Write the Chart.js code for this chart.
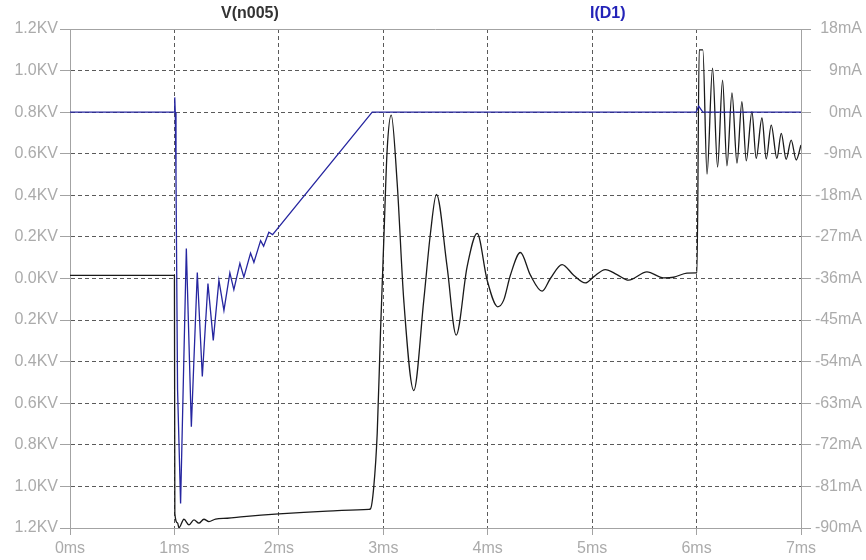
<!DOCTYPE html>
<html><head><meta charset="utf-8">
<script src="https://cdn.jsdelivr.net/npm/chart.js@4.4.0/dist/chart.umd.min.js"></script>
<style>
html,body{margin:0;padding:0;background:#fff;}
#wrap{position:relative;width:866px;height:560px;overflow:hidden;}
canvas{position:absolute;left:0;top:0;}
.lbl{position:absolute;top:4px;font:bold 16px "Liberation Sans",Arial,sans-serif;white-space:nowrap;line-height:18px;}
</style></head><body>
<div id="wrap"><canvas id="c" width="866" height="560"></canvas>
<div class="lbl" id="l1" style="left:221px;color:#333">V(n005)</div>
<div class="lbl" id="l2" style="left:590px;color:#2323b8">I(D1)</div>
</div>
<script>
const seriesNames = ["V(n005)", "I(D1)"];

// V(n005) in kV, time in ms
const vTime = [0, 1.0, 1.004, 1.03, 1.043, 1.091, 1.139, 1.187, 1.234, 1.282, 1.330, 1.394, 1.506, 1.665, 2.0, 2.463, 2.861, 2.877,
  2.909, 2.942, 2.973, 3.005, 3.037, 3.076, 3.133, 3.196, 3.292, 3.388, 3.452, 3.509, 3.611, 3.698, 3.803, 3.899, 3.994, 4.096,
  4.153, 4.217, 4.313, 4.409, 4.521, 4.600, 4.712, 4.823, 4.935, 5.014, 5.126, 5.238, 5.349, 5.525, 5.684, 5.780, 5.908, 5.997,
  6.004, 6.025, 6.06, 6.100, 6.153, 6.201, 6.249, 6.291, 6.339, 6.387, 6.434, 6.476, 6.530, 6.571, 6.626, 6.667, 6.715, 6.769,
  6.811, 6.858, 6.906, 6.954, 7.0];
const vKV = [0.015, 0.015, -1.13, -1.175, -1.199, -1.158, -1.185, -1.161, -1.177, -1.158, -1.169, -1.157, -1.153, -1.145, -1.132, -1.119, -1.110, -1.108,
  -1.001, -0.743, -0.262, 0.185, 0.618, 0.786, 0.459, -0.103, -0.539, -0.103, 0.219, 0.405, 0.057, -0.272, 0.057, 0.217, -0.007, -0.136,
  -0.104, 0.016, 0.125, 0.016, -0.061, 0.0, 0.067, 0.016, -0.021, 0.008, 0.043, 0.019, -0.008, 0.032, 0.003, 0.006, 0.026, 0.027,
  0.027, 1.10, 1.10, 0.502, 1.012, 0.536, 0.954, 0.542, 0.893, 0.555, 0.850, 0.566, 0.802, 0.578, 0.772, 0.575, 0.738, 0.578,
  0.698, 0.573, 0.666, 0.570, 0.642];

// I(D1) in mA, time in ms
const iTime = [0, 1.0, 1.003, 1.008, 1.015, 1.03, 1.059, 1.114, 1.162, 1.219, 1.267, 1.321, 1.372, 1.426, 1.474, 1.531, 1.569, 1.627,
  1.665, 1.729, 1.761, 1.825, 1.854, 1.904, 1.940, 2.894, 5.995, 6.02, 6.06, 7.0];
const iMA = [0, 0, 3.2, 0, -14, -60, -84.7, -29.5, -68.1, -34.7, -57.2, -37.1, -49.4, -36.4, -42.9, -34.8, -38.4, -32.7,
  -35.7, -30.5, -32.5, -27.8, -29.0, -26.0, -26.5, 0, 0, 1.3, 0, 0];

const xTickValues = [0, 1, 2, 3, 4, 5, 6, 7];
const xTickLabels = ["0ms", "1ms", "2ms", "3ms", "4ms", "5ms", "6ms", "7ms"];
const leftTickValues = [-1.2, -1.0, -0.8, -0.6, -0.4, -0.2, 0.0, 0.2, 0.4, 0.6, 0.8, 1.0, 1.2];
const leftTickLabels = ["1.2KV", "1.0KV", "0.8KV", "0.6KV", "0.4KV", "0.2KV", "0.0KV", "0.2KV", "0.4KV", "0.6KV", "0.8KV", "1.0KV", "1.2KV"];
const rightTickValues = [-90, -81, -72, -63, -54, -45, -36, -27, -18, -9, 0, 9, 18];
const rightTickLabels = ["-90mA", "-81mA", "-72mA", "-63mA", "-54mA", "-45mA", "-36mA", "-27mA", "-18mA", "-9mA", "0mA", "9mA", "18mA"];

const FONT = {family: '"Liberation Sans", Arial, sans-serif', size: 16};
const TICK_COLOR = '#ababab';
const BORDER_COLOR = '#a3a3a3';
const GRID_COLOR = '#5a5a5a';

const vData = vTime.map((t, i) => ({x: t, y: vKV[i]}));
const iData = iTime.map((t, i) => ({x: t, y: iMA[i]}));

const frame = {
  id: 'frame',
  beforeDatasetsDraw(chart) {
    const {ctx, chartArea: a} = chart;
    ctx.save();
    ctx.strokeStyle = BORDER_COLOR;
    ctx.lineWidth = 1;
    ctx.beginPath();
    ctx.moveTo(a.left, Math.round(a.top) + 0.5);
    ctx.lineTo(a.right, Math.round(a.top) + 0.5);
    ctx.stroke();
    ctx.restore();
  }
};

new Chart(document.getElementById('c'), {
  type: 'line',
  data: {
    datasets: [
      {label: seriesNames[0], data: vData, yAxisID: 'yL', borderColor: '#1a1a1a', borderWidth: 1.3, pointRadius: 0, cubicInterpolationMode: 'monotone', order: 1},
      {label: seriesNames[1], data: iData, yAxisID: 'yR', borderColor: '#2626a0', borderWidth: 1.3, pointRadius: 0, tension: 0, order: 0}
    ]
  },
  options: {
    responsive: false,
    animation: false,
    devicePixelRatio: 1,
    layout: {padding: {top: 29, right: 4, left: 0, bottom: 0}},
    plugins: {legend: {display: false}, tooltip: {enabled: false}, title: {display: false}},
    scales: {
      x: {
        type: 'linear', position: 'bottom', min: 0, max: 7,
        afterBuildTicks: s => { s.ticks = xTickValues.map(v => ({value: v})); },
        afterFit: s => { s.height = 32; },
        ticks: {callback: (v, i) => xTickLabels[i], color: TICK_COLOR, font: FONT, padding: 4, maxRotation: 0, autoSkip: false},
        grid: {
          color: c => (c.tick && (c.tick.value === 0 || c.tick.value === 7)) ? 'rgba(0,0,0,0)' : GRID_COLOR,
          lineWidth: 1, tickColor: BORDER_COLOR, tickLength: 7, tickBorderDash: [], drawTicks: true
        },
        border: {color: BORDER_COLOR, width: 1, dash: [4, 3]}
      },
      yL: {
        type: 'linear', position: 'left', min: -1.2, max: 1.2,
        afterBuildTicks: s => { s.ticks = leftTickValues.map(v => ({value: v})); },
        afterFit: s => { s.width = 70; },
        ticks: {callback: (v, i) => leftTickLabels[i], color: TICK_COLOR, font: FONT, padding: 2, autoSkip: false},
        grid: {
          color: c => (c.tick && (Math.abs(c.tick.value) > 1.19)) ? 'rgba(0,0,0,0)' : GRID_COLOR,
          lineWidth: 1, tickColor: BORDER_COLOR, tickLength: 10, tickBorderDash: [], drawTicks: true
        },
        border: {color: BORDER_COLOR, width: 1, dash: [4, 3]}
      },
      yR: {
        type: 'linear', position: 'right', min: -90, max: 18,
        afterBuildTicks: s => { s.ticks = rightTickValues.map(v => ({value: v})); },
        afterFit: s => { s.width = 61; },
        ticks: {callback: (v, i) => rightTickLabels[i], color: TICK_COLOR, font: FONT, padding: 2, crossAlign: 'far', autoSkip: false},
        grid: {drawOnChartArea: false, color: BORDER_COLOR, tickColor: BORDER_COLOR, tickLength: 10, tickBorderDash: [], drawTicks: true},
        border: {color: BORDER_COLOR, width: 1}
      }
    }
  },
  plugins: [frame]
});
</script>
</body></html>
